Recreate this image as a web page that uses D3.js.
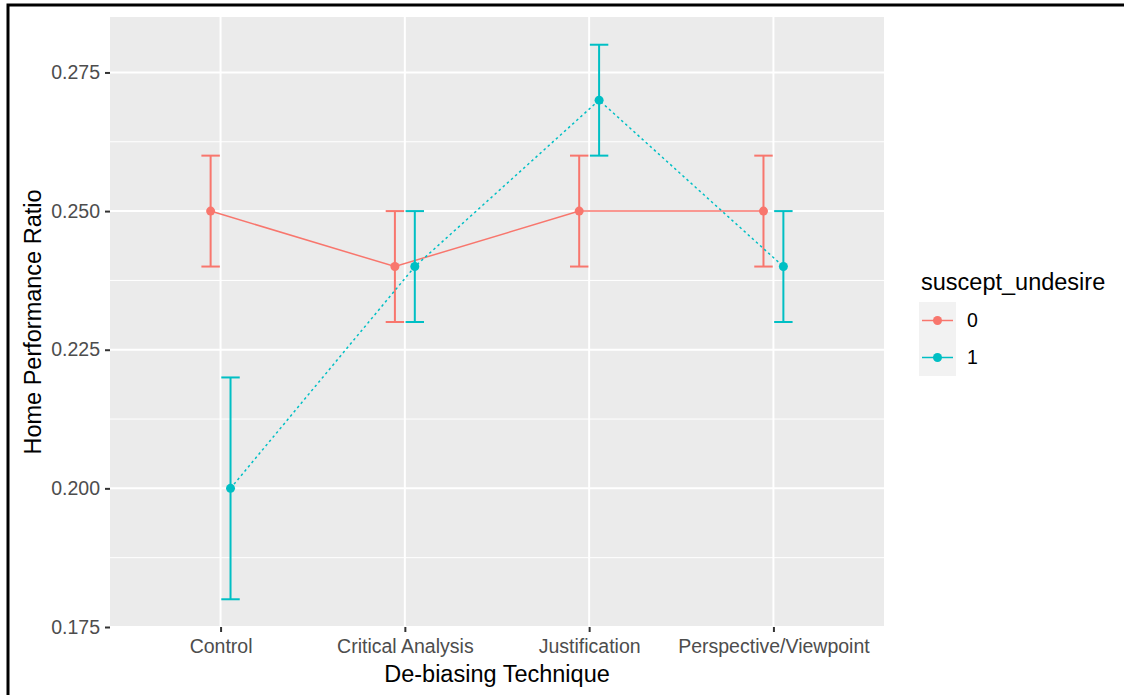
<!DOCTYPE html>
<html>
<head>
<meta charset="utf-8">
<script src="https://cdn.jsdelivr.net/npm/d3@7"></script>
<style>
  body { margin: 0; background: #fff; }
  text { font-family: "Liberation Sans", Arial, sans-serif; }
</style>
</head>
<body>
<svg id="chart" width="1124" height="695"></svg>
<script>
// categories and series (mean with lower / upper error limits)
var techniques = ["Control", "Critical Analysis", "Justification", "Perspective/Viewpoint"];
var groups = ["0", "1"];
var colors = ["#F8766D", "#00BFC4"];

var mean0 = [0.25, 0.24, 0.25, 0.25];
var lower0 = [0.24, 0.23, 0.24, 0.24];
var upper0 = [0.26, 0.25, 0.26, 0.26];

var mean1 = [0.20, 0.24, 0.27, 0.24];
var lower1 = [0.18, 0.23, 0.26, 0.23];
var upper1 = [0.22, 0.25, 0.28, 0.25];

var yTicks = [0.175, 0.200, 0.225, 0.250, 0.275];
var yMinor = [0.1875, 0.2125, 0.2375, 0.2625];

var svg = d3.select("#chart");

var panel = {left: 110, right: 884, top: 17, bottom: 627};

// discrete x scale, ggplot style expansion of 0.6 on each side
var xIdx = d3.scaleLinear()
    .domain([0.4, techniques.length + 0.6])
    .range([panel.left, panel.right]);
var x = function(name) { return xIdx(techniques.indexOf(name) + 1); };

var y = d3.scaleLinear()
    .domain([0.175, 0.285])
    .range([panel.bottom, panel.top]);

var series = [
    {key: groups[0], color: colors[0], dash: null, dodge: -0.054,
     values: techniques.map(function(t, i) { return {t: t, m: mean0[i], lo: lower0[i], hi: upper0[i]}; })},
    {key: groups[1], color: colors[1], dash: "2.5,3", dodge: 0.054,
     values: techniques.map(function(t, i) { return {t: t, m: mean1[i], lo: lower1[i], hi: upper1[i]}; })}
];

// outer frame
svg.append("rect")
    .attr("x", 8).attr("y", 5)
    .attr("width", 1300).attr("height", 900)
    .attr("fill", "none")
    .attr("stroke", "#000")
    .attr("stroke-width", 3);

// panel background
svg.append("rect")
    .attr("x", panel.left).attr("y", panel.top)
    .attr("width", panel.right - panel.left)
    .attr("height", panel.bottom - panel.top)
    .attr("fill", "#EBEBEB");

// grid lines
svg.append("g").selectAll("line")
    .data(yMinor)
    .enter().append("line")
    .attr("x1", panel.left).attr("x2", panel.right)
    .attr("y1", function(d) { return y(d); })
    .attr("y2", function(d) { return y(d); })
    .attr("stroke", "#fff").attr("stroke-width", 1);

svg.append("g").selectAll("line")
    .data(yTicks)
    .enter().append("line")
    .attr("x1", panel.left).attr("x2", panel.right)
    .attr("y1", function(d) { return y(d); })
    .attr("y2", function(d) { return y(d); })
    .attr("stroke", "#fff").attr("stroke-width", 2);

svg.append("g").selectAll("line")
    .data(techniques)
    .enter().append("line")
    .attr("y1", panel.top).attr("y2", panel.bottom)
    .attr("x1", function(d) { return x(d); })
    .attr("x2", function(d) { return x(d); })
    .attr("stroke", "#fff").attr("stroke-width", 2);

// axes
var yAxis = svg.append("g")
    .attr("transform", "translate(" + panel.left + ",0)")
    .call(d3.axisLeft(y).tickValues(yTicks).tickFormat(d3.format(".3f")).tickSize(5).tickPadding(5));

var xAxis = svg.append("g")
    .attr("transform", "translate(0," + panel.bottom + ")")
    .call(d3.axisBottom(xIdx).tickValues([1, 2, 3, 4])
        .tickFormat(function(d) { return techniques[d - 1]; })
        .tickSize(5).tickPadding(5));

[xAxis, yAxis].forEach(function(a) {
    a.select(".domain").remove();
    a.selectAll(".tick line").attr("stroke", "#333").attr("stroke-width", 2);
    a.selectAll(".tick text")
        .attr("fill", "#4D4D4D")
        .style("font-size", "19.5px");
});
xAxis.selectAll(".tick text").attr("dy", "0.8em");

// axis titles
svg.append("text")
    .attr("x", (panel.left + panel.right) / 2)
    .attr("y", 682)
    .attr("text-anchor", "middle")
    .style("font-size", "23.5px")
    .text("De-biasing Technique");

svg.append("text")
    .attr("transform", "translate(41," + (panel.top + panel.bottom) / 2 + ") rotate(-90)")
    .attr("text-anchor", "middle")
    .style("font-size", "23.5px")
    .text("Home Performance Ratio");

// lines, error bars, points
var capHalf = 0.05;

series.forEach(function(s) {
    var g = svg.append("g");
    var px = function(d) { return xIdx(techniques.indexOf(d.t) + 1 + s.dodge); };

    g.append("path")
        .datum(s.values)
        .attr("fill", "none")
        .attr("stroke", s.color)
        .attr("stroke-width", 1.5)
        .attr("stroke-dasharray", s.dash)
        .attr("d", d3.line().x(px).y(function(d) { return y(d.m); }));

    var eb = g.selectAll(".eb")
        .data(s.values)
        .enter().append("g");

    eb.append("line")
        .attr("x1", px).attr("x2", px)
        .attr("y1", function(d) { return y(d.lo); })
        .attr("y2", function(d) { return y(d.hi); })
        .attr("stroke", s.color).attr("stroke-width", 2);

    ["lo", "hi"].forEach(function(k) {
        eb.append("line")
            .attr("x1", function(d) { return xIdx(techniques.indexOf(d.t) + 1 + s.dodge - capHalf); })
            .attr("x2", function(d) { return xIdx(techniques.indexOf(d.t) + 1 + s.dodge + capHalf); })
            .attr("y1", function(d) { return y(d[k]); })
            .attr("y2", function(d) { return y(d[k]); })
            .attr("stroke", s.color).attr("stroke-width", 2);
    });

    g.selectAll("circle")
        .data(s.values)
        .enter().append("circle")
        .attr("cx", px)
        .attr("cy", function(d) { return y(d.m); })
        .attr("r", 4.5)
        .attr("fill", s.color);
});

// legend
var legend = svg.append("g").attr("transform", "translate(919,0)");

legend.append("text")
    .attr("x", 2).attr("y", 290)
    .style("font-size", "23.5px")
    .text("suscept_undesire");

var keyH = 37;
legend.selectAll(".key")
    .data(series)
    .enter().append("g")
    .attr("transform", function(d, i) { return "translate(0," + (302 + i * keyH) + ")"; })
    .each(function(d) {
        var k = d3.select(this);
        k.append("rect")
            .attr("width", 37).attr("height", keyH)
            .attr("fill", "#F2F2F2");
        k.append("line")
            .attr("x1", 3).attr("x2", 34)
            .attr("y1", keyH / 2).attr("y2", keyH / 2)
            .attr("stroke", d.color).attr("stroke-width", 1.5);
        k.append("circle")
            .attr("cx", 18.5).attr("cy", keyH / 2).attr("r", 4.5)
            .attr("fill", d.color);
        k.append("text")
            .attr("x", 48).attr("y", keyH / 2)
            .attr("dy", "0.35em")
            .style("font-size", "19.5px")
            .text(d.key);
    });
</script>
</body>
</html>
